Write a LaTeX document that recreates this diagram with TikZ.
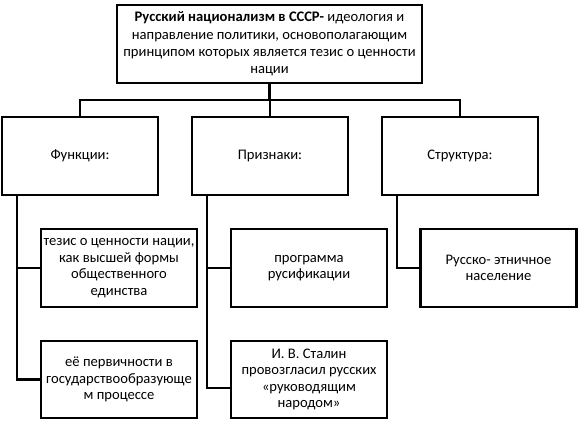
\documentclass[tikz,border=0pt]{standalone}
\usepackage{fontspec}
\setmainfont{Carlito}
\begin{document}
\begin{tikzpicture}[x=1pt,y=-1pt,
  box/.style={draw=black, line width=2.8pt, fill=white, align=center, inner sep=0pt,
    minimum width=156pt, minimum height=78pt, font=\fontsize{14.6}{16.6}\selectfont},
  conn/.style={draw=black, line width=2.8pt}]
\useasboundingbox (0,0) rectangle (579,424);
\node[box, minimum width=305pt, font=\fontsize{14.6}{17.2}\selectfont] (top) at (269.5,44)
  {\textbf{Русский национализм в СССР-} идеология и\\направление политики, основополагающим\\принципом которых является тезис о ценности\\нации};
\node[box] (f) at (80,156) {Функции:};
\node[box] (p) at (270,156) {Признаки:};
\node[box] (s) at (460,156) {Структура:};
\node[box] (b1) at (119,268) {тезис о ценности нации,\\как высшей формы\\общественного\\единства};
\node[box] (b2) at (309,268) {программа\\русификации};
\node[box] (b3) at (498.5,268) {Русско- этничное\\население};
\node[box, minimum height=77pt] (b4) at (119,379.5) {её первичности в\\государствообразующе\\м процессе};
\node[box, minimum height=77pt] (b5) at (309,379.5) {И. В. Сталин\\провозгласил русских\\«руководящим\\народом»};
\coordinate (busL) at (80,100);
\coordinate (busR) at (460,100);
\coordinate (tL) at (17,195);
\coordinate (tM) at (207,195);
\coordinate (tR) at (397,195);
\coordinate (e5) at (231,388);
\draw[conn] (top.south) -- (top.south |- busL);
\draw[conn] (f.north) -- (busL) -- (busR) -- (s.north);
\draw[conn] (p.north) -- (p.north |- busL);
\draw[conn] (tL) |- (b4.west);
\draw[conn] (tL |- b1.west) -- (b1.west);
\draw[conn] (tM) |- (e5);
\draw[conn] (tM |- b2.west) -- (b2.west);
\draw[conn] (tR) |- (b3.west);
\end{tikzpicture}
\end{document}
